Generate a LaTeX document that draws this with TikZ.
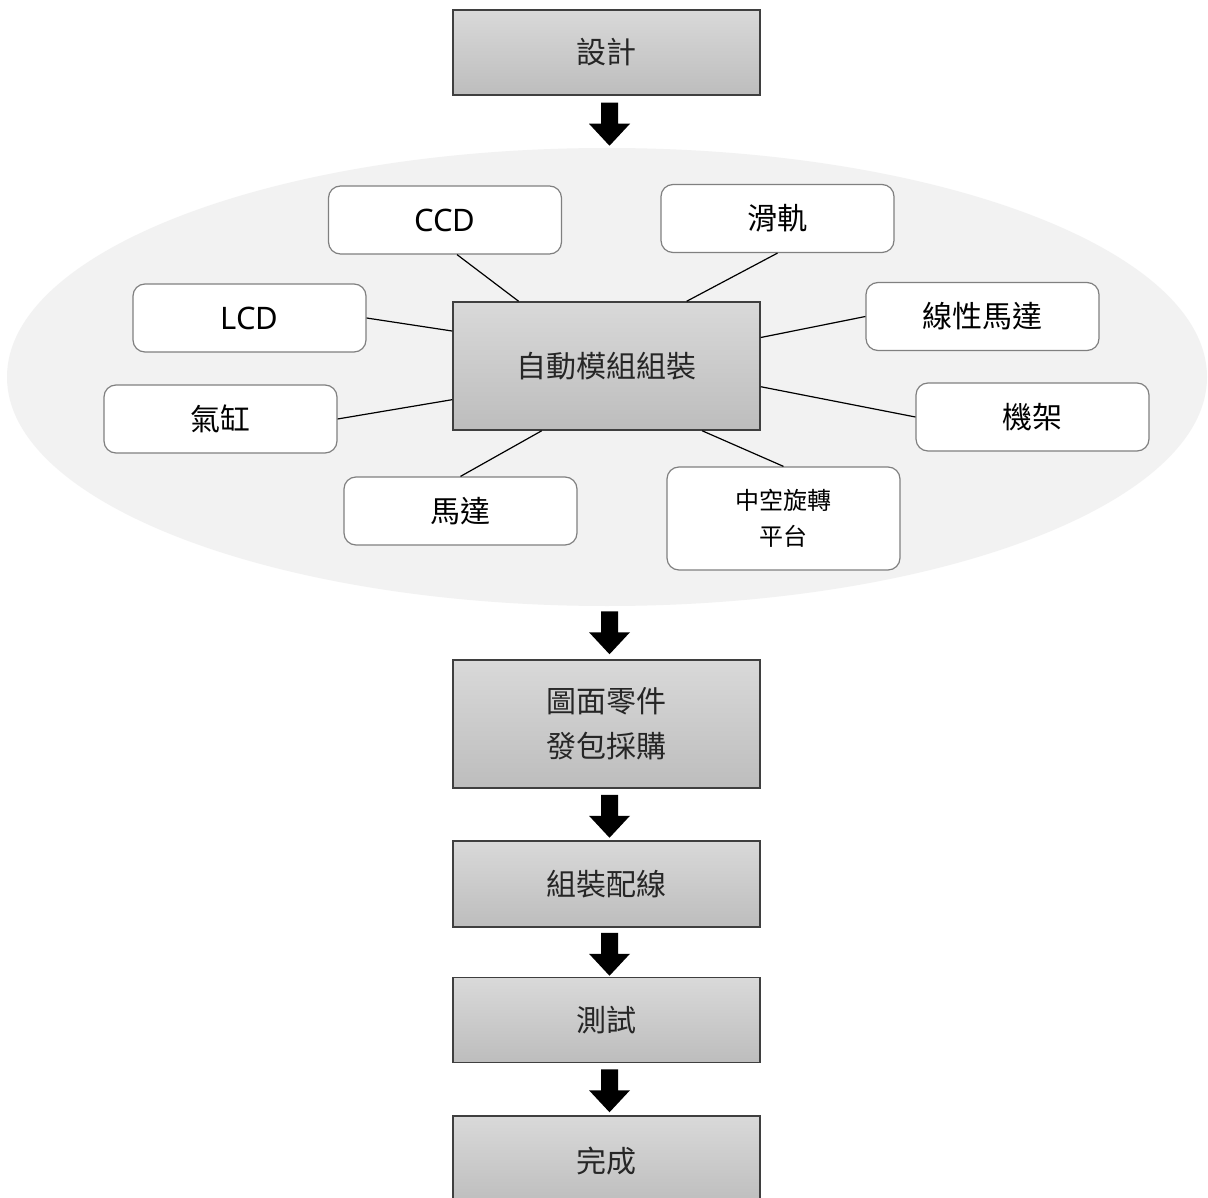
\documentclass[tikz,border=0pt]{standalone}
\usepackage{fontspec}
\setmainfont{Noto Sans CJK TC}
\newfontfamily\latinfont{Noto Sans}
\usetikzlibrary{calc}
\definecolor{ellgray}{HTML}{F2F2F2}
\definecolor{boxtop}{HTML}{D9D9D9}
\definecolor{boxbot}{HTML}{BDBDBD}
\definecolor{boxline}{HTML}{3F3F3F}
\definecolor{partline}{HTML}{808080}
\definecolor{txt}{HTML}{262626}
\tikzset{
  x=1pt, y=-1pt,
  stepbox/.style={draw=boxline, line width=1.5pt, top color=boxtop, bottom color=boxbot,
    text=txt, font=\fontsize{30}{45}\selectfont, align=center, inner sep=0pt,
    minimum width=307pt},
  partbox/.style={draw=partline, line width=1.2pt, fill=white, rounded corners=12pt,
    text=black, font=\fontsize{30}{36}\selectfont, align=center, inner sep=0pt,
    minimum width=233pt, minimum height=68pt},
  latinpart/.style={font=\latinfont\fontsize{31}{36}\selectfont},
  link/.style={draw=black, line width=1.2pt},
  downarrow/.pic={\fill[black] (-8.5,0) -- (8.5,0) -- (8.5,21) -- (20.5,21) -- (0,43) -- (-20.5,21) -- (-8.5,21) -- cycle;}
}
\begin{document}
\begin{tikzpicture}
\useasboundingbox (0,0) rectangle (1208,1198);
\fill[white] (0,0) rectangle (1208,1198);
% background ellipse
\fill[ellgray] (607,377) ellipse [x radius=600, y radius=229];

% flow boxes
\node[stepbox, minimum height=85pt] (design) at (606.5,52.5) {設計};
\node[stepbox, minimum height=128pt] (auto) at (606.5,366) {自動模組組裝};
\node[stepbox, minimum height=128pt] (draw) at (606.5,724) {圖面零件\\發包採購};
\node[stepbox, minimum height=86pt] (wire) at (606.5,884) {組裝配線};
\node[stepbox, minimum height=85pt] (test) at (606.5,1020) {測試};
\node[stepbox, minimum height=90pt] (done) at (606.5,1161) {完成};

% parts
\node[partbox, latinpart] (ccd) at (445,220) {CCD};
\node[partbox] (rail) at (777.5,218.5) {滑軌};
\node[partbox, latinpart] (lcd) at (249.5,318) {LCD};
\node[partbox] (lin) at (982.5,316.5) {線性馬達};
\node[partbox] (cyl) at (220.5,419) {氣缸};
\node[partbox] (frame) at (1032.5,417) {機架};
\node[partbox] (motor) at (460.5,511) {馬達};
\node[partbox, minimum height=103pt, font=\fontsize{24}{36}\selectfont] (rot) at (783.5,518.5) {中空旋轉\\平台};

% connectors
\draw[link] ($(ccd.south)+(12,0)$) -- ($(auto.north west)!0.215!(auto.north east)$);
\draw[link] (rail.south) -- ($(auto.north west)!0.76!(auto.north east)$);
\draw[link] (lcd.east) -- ($(auto.north west)!0.23!(auto.south west)$);
\draw[link] (lin.west) -- ($(auto.north east)!0.28!(auto.south east)$);
\draw[link] (cyl.east) -- ($(auto.north west)!0.76!(auto.south west)$);
\draw[link] (frame.west) -- ($(auto.north east)!0.66!(auto.south east)$);
\draw[link] (motor.north) -- ($(auto.south west)!0.29!(auto.south east)$);
\draw[link] (rot.north) -- ($(auto.south west)!0.81!(auto.south east)$);

% block arrows
\coordinate (a1) at ($(design.south)+(3,7)$);
\coordinate (a2) at ($(draw.north)+(3,-48)$);
\coordinate (a3) at ($(draw.south)+(3,6)$);
\coordinate (a4) at ($(wire.south)+(3,5)$);
\coordinate (a5) at ($(test.south)+(3,6)$);
\pic at (a1) {downarrow};
\pic at (a2) {downarrow};
\pic at (a3) {downarrow};
\pic at (a4) {downarrow};
\pic at (a5) {downarrow};
\end{tikzpicture}
\end{document}
